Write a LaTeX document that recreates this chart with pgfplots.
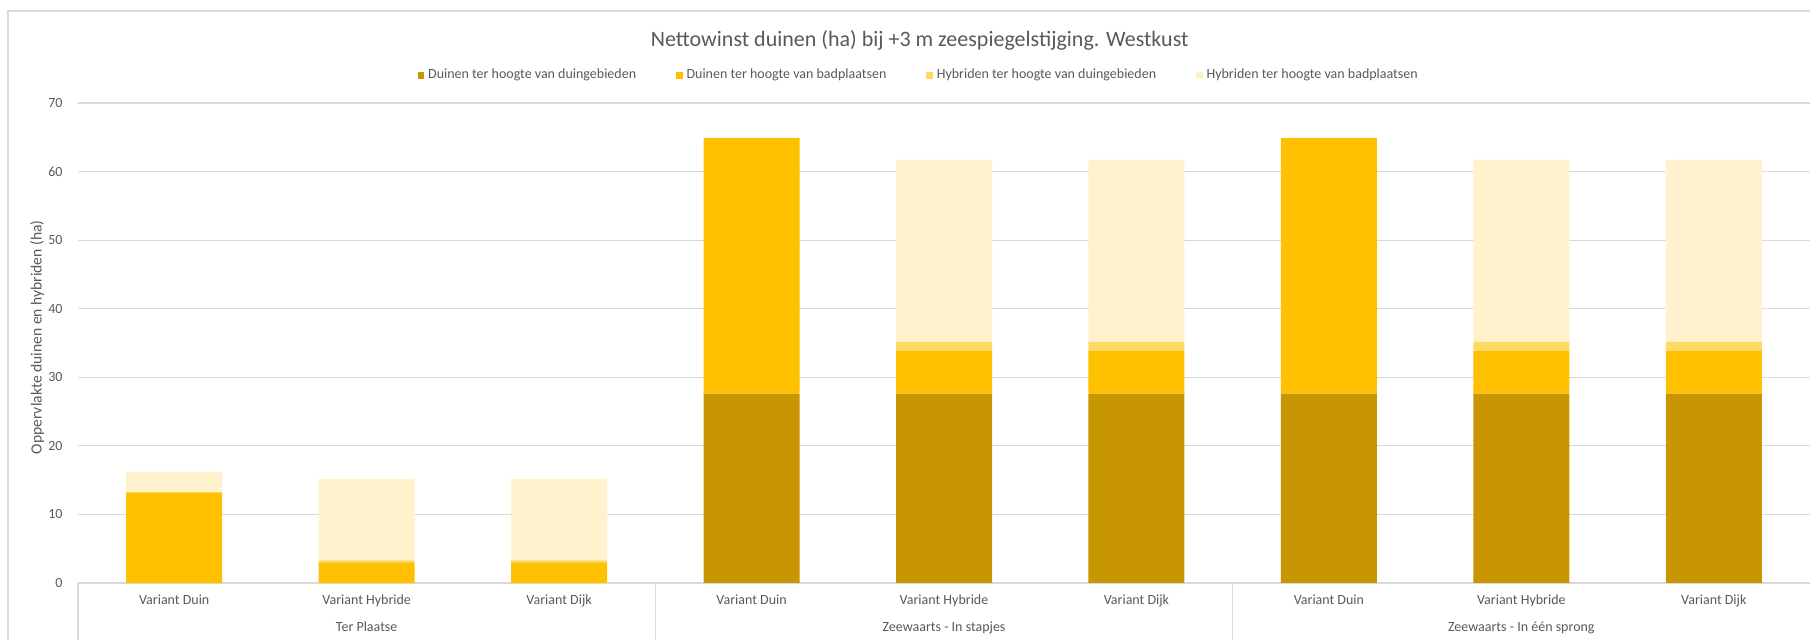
\documentclass[border=0pt]{standalone}
\usepackage{fontspec}
\setmainfont{Carlito}
\usepackage{pgfplots}
\usepackage{pgfplotstable}
\pgfplotsset{compat=1.18}

\definecolor{duinDuin}{HTML}{C79600}
\definecolor{duinBad}{HTML}{FFC000}
\definecolor{hybDuin}{HTML}{FFD966}
\definecolor{hybBad}{HTML}{FFF2CC}
\definecolor{txt}{HTML}{595959}
\definecolor{rule}{HTML}{D9D9D9}

% columns: duinen duingebieden, duinen badplaatsen, hybriden duingebieden, hybriden badplaatsen
\pgfplotstableread{
x  dd    db    hd   hb
0  0     13.2  0    3.0
1  0     3.0   0.3  11.9
2  0     3.0   0.3  11.9
3  27.6  37.3  0    0
4  27.6  6.3   1.3  26.5
5  27.6  6.3   1.3  26.5
6  27.6  37.3  0    0
7  27.6  6.3   1.3  26.5
8  27.6  6.3   1.3  26.5
}\westkust

\begin{document}
\begin{tikzpicture}
\path[use as bounding box] (0pt,0pt) rectangle (905pt,320pt);
\draw[rule, line width=0.6pt] (4pt,0pt) -- (4pt,314.5pt) -- (905pt,314.5pt);
\begin{axis}[
    at={(39pt,28.5pt)}, anchor=south west,
    width=866pt, height=240pt, scale only axis,
    ybar stacked, bar width=48pt,
    xmin=-0.5, xmax=8.5, ymin=0, ymax=70,
    ytick={0,10,...,70},
    xtick={0,...,8},
    xticklabels={Variant Duin, Variant Hybride, Variant Dijk,
                 Variant Duin, Variant Hybride, Variant Dijk,
                 Variant Duin, Variant Hybride, Variant Dijk},
    major tick length=0pt,
    axis line style={draw=none},
    ymajorgrids,
    major grid style={rule, line width=0.6pt},
    /pgf/number format/assume math mode=true,
    tick label style={font=\fontsize{7}{8}\selectfont, text=txt},
    xticklabel style={anchor=base, yshift=-10.8pt},
    yticklabel style={xshift=-4.2pt},
    ylabel={Oppervlakte duinen en hybriden (ha)},
    ylabel style={at={(axis description cs:-0.0235,0.512)}, anchor=center,
                  font=\fontsize{7.8}{9}\selectfont, text=txt},
    title={Nettowinst duinen (ha) bij +3 m zeespiegelstijging. Westkust},
    title style={at={(axis description cs:0.486,1.106)}, anchor=center,
                 font=\fontsize{11}{13}\selectfont, text=txt},
    legend style={at={(0.486,1.058)}, anchor=center, draw=none, fill=none,
                  legend columns=4, font=\fontsize{7}{8}\selectfont, text=txt,
                  /tikz/every even column/.append style={column sep=18pt}},
    legend cell align=left,
    legend image code/.code={\fill[#1,draw=none] (0pt,-1.7pt) rectangle (3.2pt,1.7pt);},
    clip=false,
]
\addplot[fill=duinDuin, draw=none] table[x=x, y=dd] {\westkust};
\addlegendentry{Duinen ter hoogte van duingebieden}
\addplot[fill=duinBad, draw=none] table[x=x, y=db] {\westkust};
\addlegendentry{Duinen ter hoogte van badplaatsen}
\addplot[fill=hybDuin, draw=none] table[x=x, y=hd] {\westkust};
\addlegendentry{Hybriden ter hoogte van duingebieden}
\addplot[fill=hybBad, draw=none] table[x=x, y=hb] {\westkust};
\addlegendentry{Hybriden ter hoogte van badplaatsen}

% multi-level category separators
\draw[rule, line width=0.6pt] (axis cs:-0.5,0) -- ++(0pt,-28.5pt);
\draw[rule, line width=0.6pt] (axis cs:2.5,0) -- ++(0pt,-28.5pt);
\draw[rule, line width=0.6pt] (axis cs:5.5,0) -- ++(0pt,-28.5pt);
\node[anchor=base, yshift=-24.3pt, font=\fontsize{7}{8}\selectfont, text=txt] at (axis cs:1,0) {Ter Plaatse};
\node[anchor=base, yshift=-24.3pt, font=\fontsize{7}{8}\selectfont, text=txt] at (axis cs:4,0) {Zeewaarts - In stapjes};
\node[anchor=base, yshift=-24.3pt, font=\fontsize{7}{8}\selectfont, text=txt] at (axis cs:7,0) {Zeewaarts - In één sprong};
\end{axis}
\end{tikzpicture}
\end{document}
